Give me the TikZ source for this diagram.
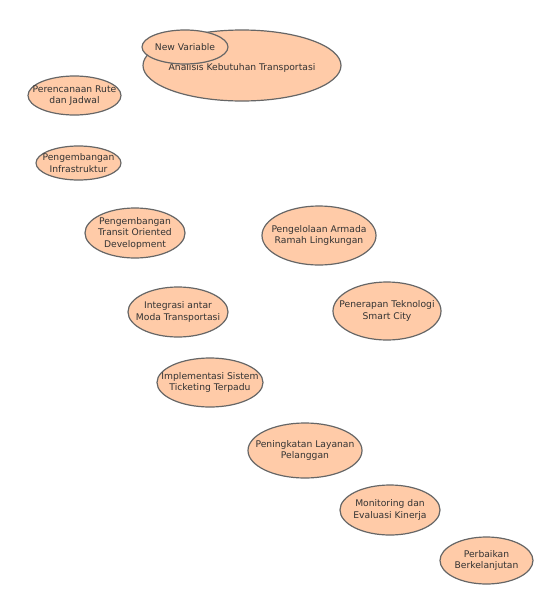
\documentclass[tikz,border=0pt]{standalone}
\usepackage{fontspec}
\setmainfont{DejaVu Sans}
\definecolor{peach}{HTML}{FFCBA8}
\definecolor{edgegray}{HTML}{666666}
\definecolor{txtgray}{HTML}{333333}
\tikzset{
  bubblebg/.style={draw=edgegray, line width=1.2pt, fill=peach},
  label/.style={inner sep=0pt, align=center, text=txtgray, font=\fontsize{9.2}{11.5}\selectfont},
}
\begin{document}
\begin{tikzpicture}[x=1pt,y=-1pt]
\useasboundingbox (0,0) rectangle (546,600);
\path[bubblebg] (242,65.5) ellipse (99 and 35.5);
\node[label] (akt) at (242,67.5) {Analisis Kebutuhan Transportasi};
\path[bubblebg] (185,47) ellipse (43 and 17);
\node[label] (nv) at (185,47) {New Variable};
\path[bubblebg] (74.5,95.5) ellipse (46.5 and 19.5);
\node[label] (prj) at (74.5,95.5) {Perencanaan Rute\\dan Jadwal};
\path[bubblebg] (78.5,163) ellipse (42.5 and 17);
\node[label] (pi) at (78.5,163) {Pengembangan\\Infrastruktur};
\path[bubblebg] (135,233) ellipse (50 and 25);
\node[label] (tod) at (135,233) {Pengembangan\\Transit Oriented\\Development};
\path[bubblebg] (319,235.5) ellipse (57 and 29.5);
\node[label] (par) at (319,235.5) {Pengelolaan Armada\\Ramah Lingkungan};
\path[bubblebg] (178,312) ellipse (50 and 25);
\node[label] (imt) at (178,312) {Integrasi antar\\Moda Transportasi};
\path[bubblebg] (387,311) ellipse (54 and 29);
\node[label] (pts) at (387,311) {Penerapan Teknologi\\Smart City};
\path[bubblebg] (210,382.5) ellipse (53 and 24.5);
\node[label] (ist) at (210,382.5) {Implementasi Sistem\\Ticketing Terpadu};
\path[bubblebg] (305,450.5) ellipse (57 and 27.5);
\node[label] (plp) at (305,450.5) {Peningkatan Layanan\\Pelanggan};
\path[bubblebg] (390,510) ellipse (50 and 25);
\node[label] (mek) at (390,510) {Monitoring dan\\Evaluasi Kinerja};
\path[bubblebg] (486.5,560.5) ellipse (46.5 and 23.5);
\node[label] (pb) at (486.5,560.5) {Perbaikan\\Berkelanjutan};
\end{tikzpicture}
\end{document}
